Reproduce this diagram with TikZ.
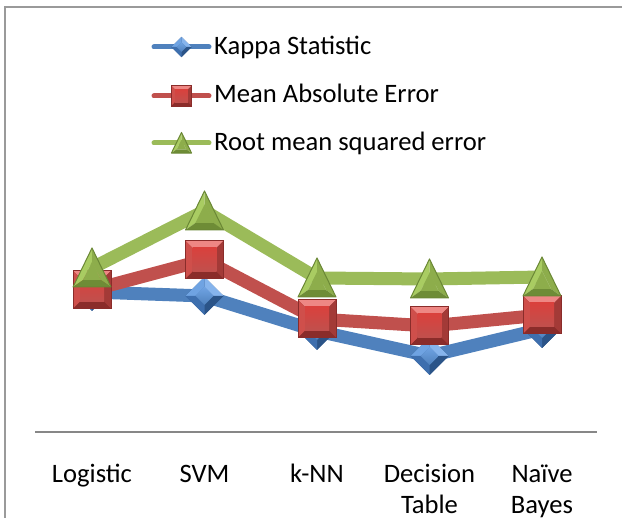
\documentclass[tikz,border=0pt]{standalone}
\usepackage{fontspec}
\setmainfont{Carlito}
\definecolor{kbase}{HTML}{4F81BD}
\definecolor{klight}{HTML}{6FA3E2}
\definecolor{klighter}{HTML}{86B4EC}
\definecolor{kmid}{HTML}{3E6FAE}
\definecolor{kdark}{HTML}{2B5488}
\definecolor{rbase}{HTML}{C0504D}
\definecolor{rlight}{HTML}{EE8784}
\definecolor{rmid}{HTML}{CF4F4B}
\definecolor{rdmid}{HTML}{A33A37}
\definecolor{rdark}{HTML}{8A2C2A}
\definecolor{rin}{HTML}{D9413D}
\definecolor{gbase}{HTML}{9BBB59}
\definecolor{glight}{HTML}{A9CC62}
\definecolor{gmid}{HTML}{8DAD4B}
\definecolor{gdark}{HTML}{6E8C36}
\definecolor{gout}{HTML}{6A8735}
\definecolor{framegray}{HTML}{9A9A9A}
\definecolor{axisgray}{HTML}{878787}
\tikzset{
  kline/.style={line width=13pt, draw=kbase, line join=round},
  rline/.style={line width=13pt, draw=rbase, line join=round},
  gline/.style={line width=13pt, draw=gbase, line join=round},
  legline/.style={line width=5pt, line cap=round},
  legtxt/.style={font=\fontsize{26.6}{31}\selectfont, inner sep=0pt, anchor=base west},
  cattxt/.style={font=\fontsize{26.6}{31}\selectfont, inner sep=0pt, anchor=base, align=center},
  pics/kdia/.style={code={
    \fill[kdark] (-19,0)--(0,-19)--(19,0)--(0,19)--cycle;
    \fill[klight] (-19,0)--(0,-19)--(0,-9)--(-9,0)--cycle;
    \fill[klighter] (0,-19)--(19,0)--(9,0)--(0,-9)--cycle;
    \fill[kdark] (19,0)--(0,19)--(0,9)--(9,0)--cycle;
    \fill[kmid] (0,19)--(-19,0)--(-9,0)--(0,9)--cycle;
    \shade[top color=klight, bottom color=kbase] (-9,0)--(0,-9)--(9,0)--(0,9)--cycle;
  }},
  pics/rsq/.style={code={
    \fill[rdark] (-19,-19) rectangle (19,19);
    \fill[rlight] (-19,-19)--(19,-19)--(12,-12)--(-12,-12)--cycle;
    \fill[rmid] (-19,-19)--(-12,-12)--(-12,12)--(-19,19)--cycle;
    \fill[rdmid] (19,-19)--(19,19)--(12,12)--(12,-12)--cycle;
    \fill[rdark] (-19,19)--(19,19)--(12,12)--(-12,12)--cycle;
    \shade[top color=rin, bottom color=rbase] (-12,-12) rectangle (12,12);
    \draw[rdark, line width=1pt] (-19,-19) rectangle (19,19);
  }},
  pics/gtri/.style={code={
    \fill[glight] (0,-20)--(-19,19)--(-9,12)--(0,-6)--cycle;
    \fill[gmid] (0,-20)--(19,19)--(9,12)--(0,-6)--cycle;
    \fill[gdark] (-19,19)--(19,19)--(9,12)--(-9,12)--cycle;
    \fill[gmid] (0,-6)--(9,12)--(-9,12)--cycle;
    \draw[gout, line width=1pt, line join=round] (0,-20)--(-19,19)--(19,19)--cycle;
  }}
}
\begin{document}
\begin{tikzpicture}[x=1pt,y=-1pt]
\useasboundingbox (0,0) rectangle (622,518);
% frame
\coordinate (f1) at (5,518);
\coordinate (f2) at (5,7);
\coordinate (f3) at (622,7);
\draw[framegray, line width=2pt] (f1) -- (f2) -- (f3);
% axis
\coordinate (a1) at (35,432);
\coordinate (a2) at (597,432);
\draw[axisgray, line width=2pt] (a1) -- (a2);
% data coordinates
\coordinate (k1) at (92,292);
\coordinate (k2) at (204.5,296);
\coordinate (k3) at (317,331);
\coordinate (k4) at (429.5,356);
\coordinate (k5) at (542,329);
\coordinate (r1) at (92,290);
\coordinate (r2) at (204.5,260);
\coordinate (r3) at (317,319);
\coordinate (r4) at (429.5,326);
\coordinate (r5) at (542,315);
\coordinate (g1) at (92,268);
\coordinate (g2) at (204.5,211);
\coordinate (g3) at (317,278);
\coordinate (g4) at (429.5,279);
\coordinate (g5) at (542,277);
% Kappa series
\draw[kline] (k1) -- (k2) -- (k3) -- (k4) -- (k5);
\foreach \p in {k1,k2,k3,k4,k5} \pic at (\p) {kdia};
% MAE series
\draw[rline] (r1) -- (r2) -- (r3) -- (r4) -- (r5);
\foreach \p in {r1,r2,r3,r4,r5} \pic at (\p) {rsq};
% RMSE series
\draw[gline] (g1) -- (g2) -- (g3) -- (g4) -- (g5);
\foreach \p in {g1,g2,g3,g4,g5} \pic at (\p) {gtri};
% legend
\coordinate (lk1) at (154,47); \coordinate (lk2) at (209,47); \coordinate (lkm) at (181.5,47);
\coordinate (lr1) at (154,96); \coordinate (lr2) at (209,96); \coordinate (lrm) at (181.5,96);
\coordinate (lg1) at (154,143); \coordinate (lg2) at (209,143); \coordinate (lgm) at (181.5,143);
\draw[kline, legline] (lk1) -- (lk2);
\pic[scale=0.53] at (lkm) {kdia};
\draw[rline, legline] (lr1) -- (lr2);
\pic[scale=0.53] at (lrm) {rsq};
\draw[gline, legline] (lg1) -- (lg2);
\pic[scale=0.53] at (lgm) {gtri};
\node[legtxt] (lkt) at (214,55) {Kappa Statistic};
\node[legtxt] (lrt) at (214,103) {Mean Absolute Error};
\node[legtxt] (lgt) at (214,151) {Root mean squared error};
% categories
\node[cattxt] (c1) at (92,483) {Logistic};
\node[cattxt] (c2) at (204.5,483) {SVM};
\node[cattxt] (c3) at (317,483) {k-NN};
\node[cattxt] (c4) at (429.5,514) {Decision\\Table};
\node[cattxt] (c5) at (542,514) {Naïve\\Bayes};
\end{tikzpicture}
\end{document}
